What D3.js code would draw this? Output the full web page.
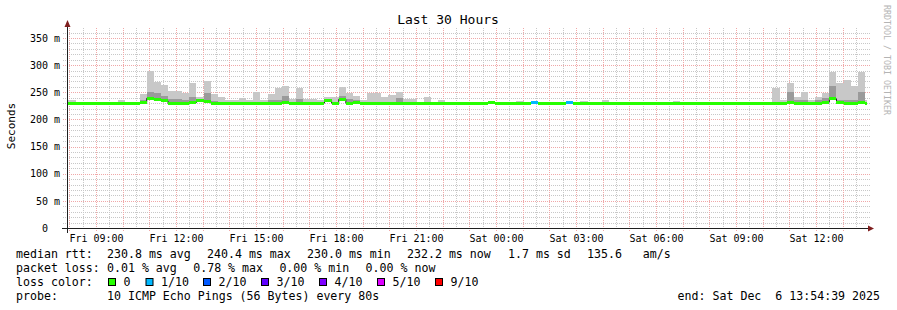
<!DOCTYPE html>
<html>
<head>
<meta charset="utf-8">
<script src="https://cdn.jsdelivr.net/npm/d3@7"></script>
<style>
  body { margin: 0; background: #fff; }
  svg { display: block; }
  text { font-family: "DejaVu Sans Mono", monospace; fill: #000; white-space: pre; }
</style>
</head>
<body>
<svg width="897" height="310"></svg>
<script>
// time window and 16 min consolidated bins
const endTime = new Date(2025, 11, 6, 13, 54, 39);
const startTime = new Date(+endTime - 30 * 3600e3);
const firstBin = new Date(2025, 11, 5, 7, 42);
const binMinutes = 16;

// median rtt per bin (ms)
const medianRtt = [
  230,230,230,230,230,230,230,230,230,230,
  230,231,239,236,234,229,230,230,231,234,
  233,230,230,230,229,229,230,230,230,230,
  230,232,230,230,230,230,230,235,230,237,
  230,231,230,230,230,230,230,230,230,229,
  229,229,229,229,229,229,230,230,230,230,
  231,230,230,230,230,230,231,230,230,230,
  230,231,230,230,230,230,230,230,230,230,
  230,230,230,230,230,230,229,229,230,230,
  230,230,230,230,230,230,230,230,230,230,
  230,230,231,229,230,229,229,232,238,231,
  230,229,232,230
];
// highest ping per bin (top of light smoke)
const maxPing = [
  230,236,230,230,230,230,230,230,236,230,
  230,246,290,269,264,253,253,248,268,242,
  270,246,242,236,236,239,236,250,236,246,
  257,262,237,257,237,238,236,242,242,259,
  249,244,236,249,248,241,245,251,237,238,
  233,242,230,236,230,233,230,230,230,230,
  230,230,230,230,234,230,230,230,230,230,
  230,234,230,234,230,230,236,230,230,230,
  230,230,230,230,230,230,234,230,230,230,
  230,230,230,233,230,230,230,230,230,230,
  257,236,268,242,251,236,241,249,287,267,
  273,262,287,236
];
// upper inner ping per bin (top of darker smoke), 0 = none
const midPing = [
  0,0,0,0,0,0,0,0,0,0,
  0,236,250,249,244,238,237,235,241,236,
  248,234,233,0,0,233,0,0,0,236,
  236,244,0,237,0,0,0,237,0,244,
  237,236,0,0,0,0,0,239,0,0,
  0,0,0,0,0,0,0,0,0,0,
  0,0,0,0,0,0,0,0,0,0,
  0,0,0,0,0,0,0,0,0,0,
  0,0,0,0,0,0,0,0,0,0,
  0,0,0,0,0,0,0,0,0,0,
  0,0,250,236,236,0,235,240,262,236,
  236,236,250,0
];
// lost pings out of 10 per bin
const lossCount = [
  0,0,0,0,0,0,0,0,0,0,
  0,0,0,0,0,0,0,0,0,0,
  0,0,0,0,0,0,0,0,0,0,
  0,0,0,0,0,0,0,0,0,0,
  0,0,0,0,0,0,0,0,0,0,
  0,0,0,0,0,0,0,0,0,0,
  0,0,0,0,0,0,1,0,0,0,
  0,1,0,0,0,0,0,0,0,0,
  0,0,0,0,0,0,0,0,0,0,
  0,0,0,0,0,0,0,0,0,0,
  0,0,0,0,0,0,0,0,0,0,
  0,0,0,0
];

const lossLevels = [0, 1, 2, 3, 4, 5, 9];
const lossLabels = ["0", "1/10", "2/10", "3/10", "4/10", "5/10", "9/10"];
const lossColors = ["#26ff00", "#00b8ff", "#0059ff", "#5e00ff", "#7e00ff", "#dd00ff", "#ff0000"];

const yTicks = [0, 50, 100, 150, 200, 250, 300, 350];
const rttStats = ["230.8 ms avg", "240.4 ms max", "230.0 ms min", "232.2 ms now", "1.7 ms sd", "135.6   am/s"];
const lossStats = ["0.01 % avg", "0.78 % max", "0.00 % min", "0.00 % now"];
const probeText = "10 ICMP Echo Pings (56 Bytes) every 80s";
const endText = "end: Sat Dec  6 13:54:39 2025";

const svg = d3.select("svg");
const plot = { left: 67, right: 867, top: 28, bottom: 228 };

const x = d3.scaleTime().domain([startTime, endTime]).range([plot.left, plot.right]);
const y = d3.scaleLinear().domain([0, 368.4]).range([plot.bottom, plot.top]);

const bins = medianRtt.map((m, i) => {
  const s = d3.timeMinute.offset(firstBin, i * binMinutes);
  const e = d3.timeMinute.offset(s, binMinutes);
  return {
    s: s < startTime ? startTime : s,
    e: e > endTime ? endTime : e,
    med: m, hi: maxPing[i], mid: midPing[i], loss: lossCount[i]
  };
});

const lossColor = n => {
  let c = lossColors[0];
  lossLevels.forEach((l, i) => { if (n >= l) c = lossColors[i]; });
  return c;
};

// grid
const grid = svg.append("g");
const px = v => Math.round(v) + 0.5;
const minorCol = "#c8c8c8", majorCol = "#f0a8a8";

const minorY = d3.range(10, 370, 10).filter(v => v % 50 !== 0);
grid.selectAll(".gy").data(minorY).join("line")
  .attr("x1", 63).attr("x2", 870)
  .attr("y1", d => px(y(d))).attr("y2", d => px(y(d)))
  .attr("stroke", minorCol).attr("stroke-dasharray", "1,1");

const halfHours = d3.timeMinute.every(30).range(startTime, endTime).filter(d => d.getMinutes() === 30);
grid.selectAll(".gx").data(halfHours).join("line")
  .attr("x1", d => px(x(d))).attr("x2", d => px(x(d)))
  .attr("y1", plot.top).attr("y2", 230)
  .attr("stroke", minorCol).attr("stroke-dasharray", "1,1");

grid.selectAll(".my").data(yTicks.filter(d => d > 0)).join("line")
  .attr("x1", 63).attr("x2", 870)
  .attr("y1", d => px(y(d))).attr("y2", d => px(y(d)))
  .attr("stroke", majorCol).attr("stroke-dasharray", "1,1");

const hours = d3.timeHour.range(startTime, endTime);
grid.selectAll(".mx").data(hours).join("line")
  .attr("x1", d => px(x(d))).attr("x2", d => px(x(d)))
  .attr("y1", plot.top).attr("y2", 231)
  .attr("stroke", majorCol).attr("stroke-dasharray", "1,1");

// smoke
const smoke = svg.append("g").attr("shape-rendering", "crispEdges");
smoke.selectAll(".light").data(bins.filter(d => d.hi > d.med)).join("rect")
  .attr("x", d => x(d.s)).attr("width", d => x(d.e) - x(d.s))
  .attr("y", d => y(d.hi)).attr("height", d => y(d.med) - y(d.hi))
  .attr("fill", "#c8c8c8");
smoke.selectAll(".mid").data(bins.filter(d => d.mid > d.med)).join("rect")
  .attr("x", d => x(d.s)).attr("width", d => x(d.e) - x(d.s))
  .attr("y", d => y(d.mid)).attr("height", d => y(d.med) - y(d.mid) + 1)
  .attr("fill", "#9a9a9a");

// median line, drawn under the loss coloured band
const pts = bins.map(d => [d.s, d.med]).concat([[endTime, bins[bins.length - 1].med]]);
svg.append("path")
  .attr("d", d3.line().x(d => x(d[0])).y(d => y(d[1])).curve(d3.curveStepAfter)(pts))
  .attr("fill", "none").attr("stroke", "#202020").attr("stroke-width", 1);
svg.append("g").attr("shape-rendering", "crispEdges")
  .selectAll("rect").data(bins).join("rect")
  .attr("x", d => x(d.s)).attr("width", d => x(d.e) - x(d.s))
  .attr("y", d => y(d.med) - 1.5).attr("height", 3)
  .attr("fill", d => lossColor(d.loss));

// axes
const axisCol = "#1f1f1f", arrowCol = "#7f1f1f";
svg.append("line").attr("x1", 62).attr("x2", 869).attr("y1", 228.5).attr("y2", 228.5)
  .attr("stroke", axisCol);
svg.append("line").attr("x1", 67.5).attr("x2", 67.5).attr("y1", 233).attr("y2", 25)
  .attr("stroke", axisCol);
svg.append("path").attr("d", "M868,225.5L874,228.5L868,231.5Z").attr("fill", arrowCol);
svg.append("path").attr("d", "M64.5,27L67.5,20L70.5,27Z").attr("fill", arrowCol);

const xAxis = d3.axisBottom(x)
  .tickValues(d3.timeHour.every(3).range(startTime, endTime))
  .tickFormat(d3.timeFormat("%a %H:%M")).tickSize(0).tickPadding(0);
const gx = svg.append("g").attr("transform", "translate(0,232)").call(xAxis);
gx.select(".domain").remove();
gx.selectAll("text").attr("dy", "0.79em").attr("y", 2)
  .style("font-family", "'DejaVu Sans Mono', monospace").style("font-size", "10px").style("fill", "#000");

const yAxis = d3.axisLeft(y).tickValues(yTicks)
  .tickFormat(d => d === 0 ? "0" : d + " m").tickSize(0).tickPadding(0);
const gy = svg.append("g").attr("transform", "translate(60,0)").call(yAxis);
gy.select(".domain").remove();
gy.selectAll("text")
  .style("font-family", "'DejaVu Sans Mono', monospace").style("font-size", "10px").style("fill", "#000")
  .attr("x", d => d === 0 ? -12 : 0);

// titles
svg.append("text").attr("x", 448).attr("y", 24).attr("text-anchor", "middle")
  .style("font-size", "13px").text("Last 30 Hours");
svg.append("text").attr("transform", "translate(15,126) rotate(-90)").attr("text-anchor", "middle")
  .style("font-size", "11px").text("Seconds");
svg.append("text").attr("transform", "translate(884,5) rotate(90)")
  .style("font-size", "8.3px").style("fill", "#b4b4b4")
  .text("RRDTOOL / TOBI OETIKER");

// legend
const lg = svg.append("g").style("font-size", "11.6px");
lg.append("text").attr("x", 16).attr("y", 258).text("median rtt:");
lg.selectAll(".rtt").data(rttStats).join("text")
  .attr("x", (d, i) => [107, 207, 307, 407, 508, 587][i]).attr("y", 258).text(d => d);
lg.append("text").attr("x", 16).attr("y", 272).text("packet loss:");
lg.selectAll(".ls").data(lossStats).join("text")
  .attr("x", (d, i) => 107 + i * 86.2).attr("y", 272).text(d => d);
lg.append("text").attr("x", 16).attr("y", 286).text("loss color:");
const boxX = [108.5, 146, 203.5, 261.5, 319.5, 377.5, 435.5];
lg.selectAll(".lb").data(lossColors).join("rect")
  .attr("x", (d, i) => boxX[i]).attr("y", 278.5).attr("width", 7).attr("height", 7)
  .attr("fill", d => d).attr("stroke", "#000").attr("stroke-width", 1);
lg.selectAll(".lt").data(lossLabels).join("text")
  .attr("x", (d, i) => boxX[i] + 15).attr("y", 286).text(d => d);
lg.append("text").attr("x", 16).attr("y", 300).text("probe:");
lg.append("text").attr("x", 107).attr("y", 300).text(probeText);
lg.append("text").attr("x", 880).attr("y", 300).attr("text-anchor", "end").text(endText);
</script>
</body>
</html>
